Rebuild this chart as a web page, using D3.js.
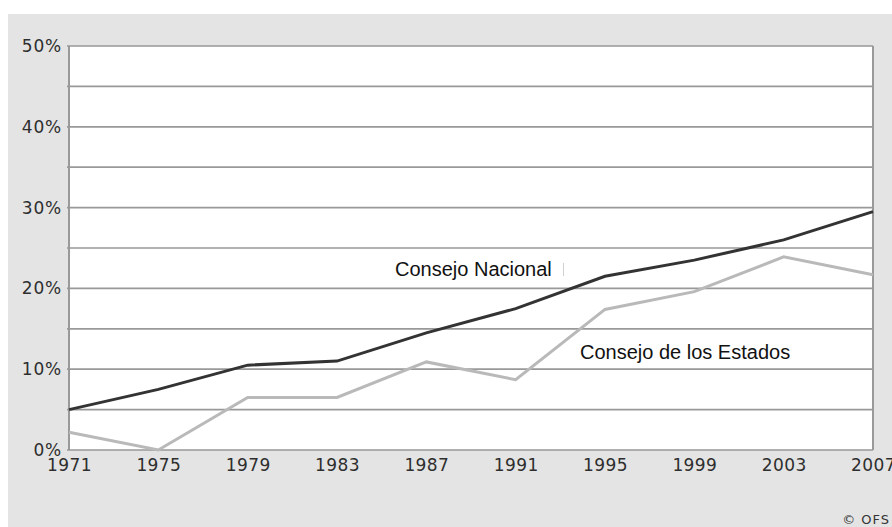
<!DOCTYPE html>
<html>
<head>
<meta charset="utf-8">
<script src="https://cdn.jsdelivr.net/npm/d3@7"></script>
<style>
  body { margin: 0; background: #fff; }
  svg { display: block; }
</style>
</head>
<body>
<div id="chart"></div>
<script>
// election years and share of women (%)
const years = [1971, 1975, 1979, 1983, 1987, 1991, 1995, 1999, 2003, 2007];
const nacional = [5, 7.5, 10.5, 11, 14.5, 17.5, 21.5, 23.5, 26, 29.5];
const estados = [2.2, 0, 6.5, 6.5, 10.9, 8.7, 17.4, 19.6, 23.9, 21.7];
const yTicks = [0, 10, 20, 30, 40, 50];
const gridValues = [0, 5, 10, 15, 20, 25, 30, 35, 40, 45, 50];

const W = 892, H = 527;
const margin = { top: 46, right: 19, bottom: 77, left: 69 };

const svg = d3.select("#chart").append("svg")
    .attr("width", W)
    .attr("height", H);

// gray panel
svg.append("rect")
    .attr("x", 8).attr("y", 14)
    .attr("width", W - 8).attr("height", H - 14)
    .attr("fill", "#e4e4e4");

const x = d3.scaleLinear()
    .domain([1971, 2007])
    .range([margin.left, W - margin.right]);

const y = d3.scaleLinear()
    .domain([0, 50])
    .range([H - margin.bottom, margin.top]);

// white plot area
svg.append("rect")
    .attr("x", x(1971)).attr("y", y(50))
    .attr("width", x(2007) - x(1971))
    .attr("height", y(0) - y(50))
    .attr("fill", "#fff");

// gridlines
svg.append("g")
    .selectAll("line")
    .data(gridValues)
    .join("line")
    .attr("x1", x(1971) - 2)
    .attr("x2", x(2007))
    .attr("y1", d => y(d))
    .attr("y2", d => y(d))
    .attr("stroke", "#999")
    .attr("stroke-width", 1.7);

// left and right frame
svg.append("line")
    .attr("x1", x(1971)).attr("x2", x(1971))
    .attr("y1", y(50)).attr("y2", y(0))
    .attr("stroke", "#999").attr("stroke-width", 2);
svg.append("line")
    .attr("x1", x(2007)).attr("x2", x(2007))
    .attr("y1", y(50)).attr("y2", y(0))
    .attr("stroke", "#999").attr("stroke-width", 2);

// y axis labels
const yAxis = d3.axisLeft(y)
    .tickValues(yTicks)
    .tickSize(0)
    .tickPadding(7)
    .tickFormat(d => d + "%");

svg.append("g")
    .attr("transform", `translate(${x(1971)},0)`)
    .call(yAxis)
    .call(g => g.select(".domain").remove())
    .call(g => g.selectAll("text")
        .attr("font-family", "DejaVu Sans, Verdana, sans-serif")
        .attr("font-size", 17)
        .attr("letter-spacing", 0.8)
        .attr("fill", "#2e2e2e"));

// x axis labels
const xAxis = d3.axisBottom(x)
    .tickValues(years)
    .tickSize(0)
    .tickPadding(9)
    .tickFormat(d3.format("d"));

svg.append("g")
    .attr("transform", `translate(0,${y(0)})`)
    .call(xAxis)
    .call(g => g.select(".domain").remove())
    .call(g => g.selectAll("text")
        .attr("font-family", "DejaVu Sans, Verdana, sans-serif")
        .attr("font-size", 17)
        .attr("letter-spacing", 0.4)
        .attr("fill", "#2e2e2e"));

const line = d3.line()
    .x((d, i) => x(years[i]))
    .y(d => y(d));

svg.append("path")
    .datum(estados)
    .attr("d", line)
    .attr("fill", "none")
    .attr("stroke", "#b9b9b9")
    .attr("stroke-width", 3);

svg.append("path")
    .datum(nacional)
    .attr("d", line)
    .attr("fill", "none")
    .attr("stroke", "#333")
    .attr("stroke-width", 3);

// series labels
svg.append("text")
    .attr("x", 395).attr("y", 276)
    .attr("font-family", "Liberation Sans, Arial, sans-serif")
    .attr("font-size", 20)
    .attr("fill", "#111")
    .text("Consejo Nacional");

svg.append("line")
    .attr("x1", 563.5).attr("x2", 563.5)
    .attr("y1", 263).attr("y2", 276)
    .attr("stroke", "#d0d0d0").attr("stroke-width", 1);

svg.append("text")
    .attr("x", 580).attr("y", 359)
    .attr("font-family", "Liberation Sans, Arial, sans-serif")
    .attr("font-size", 20)
    .attr("fill", "#111")
    .text("Consejo de los Estados");

svg.append("text")
    .attr("x", 890).attr("y", 524)
    .attr("text-anchor", "end")
    .attr("font-family", "DejaVu Sans, Verdana, sans-serif")
    .attr("font-size", 13)
    .attr("letter-spacing", 1)
    .attr("fill", "#333")
    .text("© OFS");
</script>
</body>
</html>
